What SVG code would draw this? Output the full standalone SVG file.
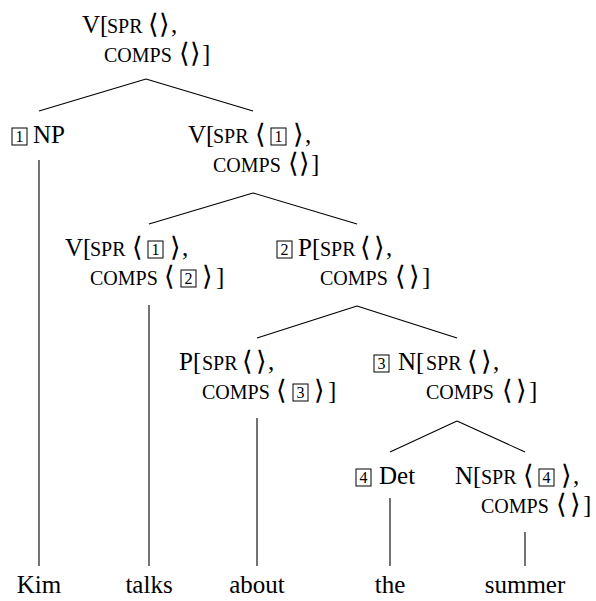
<svg xmlns="http://www.w3.org/2000/svg" width="596" height="601" viewBox="0 0 596 601">
<style>
text{font-family:"Liberation Serif","DejaVu Serif","DejaVu Sans",serif;font-size:25px;fill:#000}
.sc{font-size:20px}
.ab{font-size:27px}
.n{font-size:16px;text-anchor:middle}
.w{text-anchor:middle}
.bx{fill:none;stroke:#000;stroke-width:1}
#edges line{stroke:#000;stroke-width:1.1}
</style>
<defs><rect id="bx" class="bx" width="15" height="17"/></defs>
<rect width="596" height="601" fill="#fff"/>
<g id="edges">
<line x1="146" y1="79" x2="39" y2="111"/>
<line x1="146" y1="79" x2="253" y2="111"/>
<line x1="253" y1="193" x2="149" y2="224"/>
<line x1="253" y1="193" x2="357" y2="224"/>
<line x1="357" y1="306" x2="257" y2="338"/>
<line x1="357" y1="306" x2="457" y2="338"/>
<line x1="457" y1="421" x2="390" y2="452"/>
<line x1="457" y1="421" x2="525" y2="452"/>
<line x1="39" y1="160" x2="39" y2="566"/>
<line x1="149" y1="305" x2="149" y2="566"/>
<line x1="257" y1="418" x2="257" y2="566"/>
<line x1="390" y1="498" x2="390" y2="566"/>
<line x1="525" y1="532" x2="525" y2="566"/>
</g>
<g id="root">
<text y="33"><tspan x="82">V[</tspan><tspan x="107" class="sc">SPR</tspan><tspan x="148" class="ab">⟨</tspan><tspan x="159" class="ab">⟩</tspan><tspan x="171">,</tspan></text>
<text y="62"><tspan x="104" class="sc">COMPS</tspan><tspan x="179" class="ab">⟨</tspan><tspan x="190" class="ab">⟩</tspan><tspan x="202">]</tspan></text>
</g>
<g id="np">
<use href="#bx" x="12" y="128"/><text class="n" x="19.5" y="142">1</text>
<text x="33" y="143">NP</text>
</g>
<g id="v1">
<text y="143"><tspan x="188">V[</tspan><tspan x="213" class="sc">SPR</tspan><tspan x="255" class="ab">⟨</tspan></text>
<use href="#bx" x="271" y="128"/><text class="n" x="278.5" y="142">1</text>
<text y="143"><tspan x="293" class="ab">⟩</tspan><tspan x="305">,</tspan></text>
<text y="172"><tspan x="213" class="sc">COMPS</tspan><tspan x="288" class="ab">⟨</tspan><tspan x="299" class="ab">⟩</tspan><tspan x="311">]</tspan></text>
</g>
<g id="v2">
<text y="256"><tspan x="65">V[</tspan><tspan x="90" class="sc">SPR</tspan><tspan x="132" class="ab">⟨</tspan></text>
<use href="#bx" x="148" y="241"/><text class="n" x="155.5" y="255">1</text>
<text y="256"><tspan x="170" class="ab">⟩</tspan><tspan x="182">,</tspan></text>
<text y="285"><tspan x="90" class="sc">COMPS</tspan><tspan x="164" class="ab">⟨</tspan></text>
<use href="#bx" x="181" y="270"/><text class="n" x="188.5" y="284">2</text>
<text y="285"><tspan x="202" class="ab">⟩</tspan><tspan x="216">]</tspan></text>
</g>
<g id="p2">
<use href="#bx" x="277" y="241"/><text class="n" x="284.5" y="255">2</text>
<text y="256"><tspan x="298">P[</tspan><tspan x="320" class="sc">SPR</tspan><tspan x="360" class="ab">⟨</tspan><tspan x="374" class="ab">⟩</tspan><tspan x="386">,</tspan></text>
<text y="285"><tspan x="320" class="sc">COMPS</tspan><tspan x="395" class="ab">⟨</tspan><tspan x="409" class="ab">⟩</tspan><tspan x="422">]</tspan></text>
</g>
<g id="p3">
<text y="370"><tspan x="179">P[</tspan><tspan x="202" class="sc">SPR</tspan><tspan x="242" class="ab">⟨</tspan><tspan x="256" class="ab">⟩</tspan><tspan x="268">,</tspan></text>
<text y="399"><tspan x="202" class="sc">COMPS</tspan><tspan x="276" class="ab">⟨</tspan></text>
<use href="#bx" x="293" y="384"/><text class="n" x="300.5" y="398">3</text>
<text y="399"><tspan x="314" class="ab">⟩</tspan><tspan x="328">]</tspan></text>
</g>
<g id="n3">
<use href="#bx" x="374" y="355"/><text class="n" x="381.5" y="369">3</text>
<text y="370"><tspan x="398">N[</tspan><tspan x="426" class="sc">SPR</tspan><tspan x="467" class="ab">⟨</tspan><tspan x="481" class="ab">⟩</tspan><tspan x="493">,</tspan></text>
<text y="399"><tspan x="426" class="sc">COMPS</tspan><tspan x="502" class="ab">⟨</tspan><tspan x="516" class="ab">⟩</tspan><tspan x="529">]</tspan></text>
</g>
<g id="det">
<use href="#bx" x="356" y="469"/><text class="n" x="363.5" y="483">4</text>
<text x="379" y="484">Det</text>
</g>
<g id="n4">
<text y="484"><tspan x="455">N[</tspan><tspan x="481" class="sc">SPR</tspan><tspan x="523" class="ab">⟨</tspan></text>
<use href="#bx" x="539" y="469"/><text class="n" x="546.5" y="483">4</text>
<text y="484"><tspan x="561" class="ab">⟩</tspan><tspan x="573">,</tspan></text>
<text y="513"><tspan x="481" class="sc">COMPS</tspan><tspan x="556" class="ab">⟨</tspan><tspan x="570" class="ab">⟩</tspan><tspan x="583">]</tspan></text>
</g>
<g id="words">
<text class="w" x="39" y="593">Kim</text>
<text class="w" x="149" y="593">talks</text>
<text class="w" x="257" y="593">about</text>
<text class="w" x="390" y="593">the</text>
<text class="w" x="525" y="593">summer</text>
</g>
</svg>
